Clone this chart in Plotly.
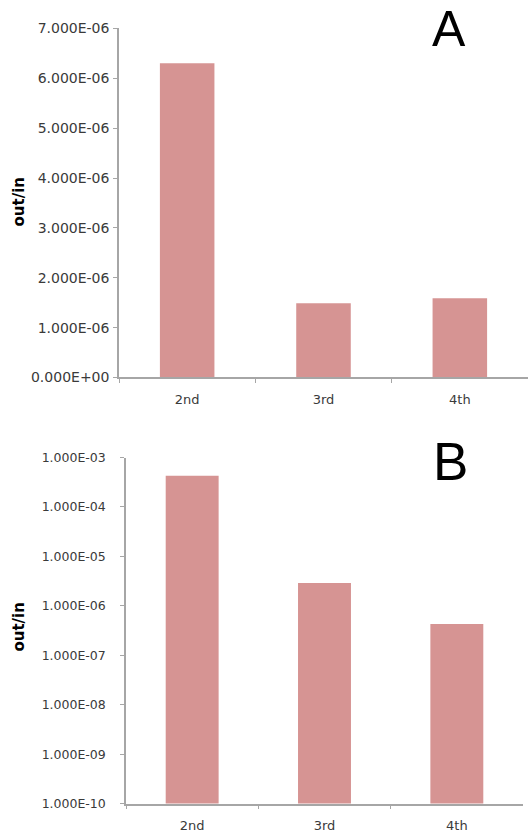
import plotly.graph_objects as go

# ---- data ----
categories = ["2nd", "3rd", "4th"]
values_a = [6.30e-6, 1.49e-6, 1.59e-6]
values_b = [4.3e-4, 2.9e-6, 4.3e-7]

ticks_a = [0, 1e-6, 2e-6, 3e-6, 4e-6, 5e-6, 6e-6, 7e-6]
ticklabels_a = ["0.000E+00", "1.000E-06", "2.000E-06", "3.000E-06",
                "4.000E-06", "5.000E-06", "6.000E-06", "7.000E-06"]
ticks_b = [1e-10, 1e-9, 1e-8, 1e-7, 1e-6, 1e-5, 1e-4, 1e-3]
ticklabels_b = ["1.000E-10", "1.000E-09", "1.000E-08", "1.000E-07",
                "1.000E-06", "1.000E-05", "1.000E-04", "1.000E-03"]

BAR = "#d69493"
AX = "#a6a6a6"
TXT = "#3a3a3a"
FONT = "DejaVu Sans"
W, H = 528, 835


def py(target):
    # pixel row (from top) -> paper fraction
    return 1 - ((target - 8.6) / 0.9806) / H


fig = go.Figure()
fig.add_trace(go.Bar(x=categories, y=values_a, marker_color=BAR,
                     marker_line_width=0, xaxis="x", yaxis="y", showlegend=False))
fig.add_trace(go.Bar(x=categories, y=values_b, marker_color=BAR,
                     marker_line_width=0, xaxis="x2", yaxis="y2", showlegend=False))

common_x = dict(type="category", showgrid=False, showline=True, linecolor=AX,
                linewidth=1.5, ticks="outside", tickson="boundaries",
                ticklen=4, tickcolor=AX, ticklabelstandoff=9,
                tickfont=dict(family=FONT, size=13, color=TXT),
                zeroline=False, fixedrange=True)
common_y = dict(showgrid=False, showline=True, linecolor=AX, linewidth=1.5,
                ticks="outside", ticklen=4, tickcolor=AX, zeroline=False,
                fixedrange=True)

fig.update_layout(
    width=W, height=H,
    margin=dict(l=0, r=0, t=0, b=0),
    plot_bgcolor="white", paper_bgcolor="white",
    bargap=0.6,
    xaxis=dict(domain=[119 / W, 1.0], anchor="y", **common_x),
    yaxis=dict(domain=[py(378), py(29)], anchor="x", range=[0, 7e-6],
               tickvals=ticks_a, ticktext=ticklabels_a, ticklabelstandoff=1,
               tickfont=dict(family=FONT, size=14, color=TXT), **common_y),
    xaxis2=dict(domain=[126 / W, 523 / W], anchor="y2", **common_x),
    yaxis2=dict(domain=[py(804), py(458)], anchor="x2", type="log",
                range=[-10, -3], tickvals=ticks_b, ticktext=ticklabels_b,
                ticklabelstandoff=12,
                tickfont=dict(family=FONT, size=12.5, color=TXT), **common_y),
    annotations=[
        dict(text="A", x=449 / W, y=py(30), xref="paper", yref="paper",
             showarrow=False, font=dict(family="Liberation Sans", size=50, color="black"),
             xanchor="center", yanchor="middle"),
        dict(text="B", x=450 / W, y=py(462), xref="paper", yref="paper",
             showarrow=False, font=dict(family="Liberation Sans", size=53, color="black"),
             xanchor="center", yanchor="middle"),
        dict(text="<b>out/in</b>", x=19 / W, y=py(203), xref="paper", yref="paper",
             showarrow=False, textangle=-90, font=dict(family=FONT, size=15, color="black"),
             xanchor="center", yanchor="middle"),
        dict(text="<b>out/in</b>", x=19 / W, y=py(628), xref="paper", yref="paper",
             showarrow=False, textangle=-90, font=dict(family=FONT, size=15, color="black"),
             xanchor="center", yanchor="middle"),
    ],
)

fig.write_html(
    "out.html",
    config={"displayModeBar": False},
    post_script=(
        "var gd=document.getElementById('{plot_id}');"
        "gd.style.position='fixed';gd.style.left='0px';gd.style.top='0px';"
        "document.body.style.margin='0';document.body.style.padding='0';"
        "document.documentElement.style.overflow='hidden';"
    ),
)
